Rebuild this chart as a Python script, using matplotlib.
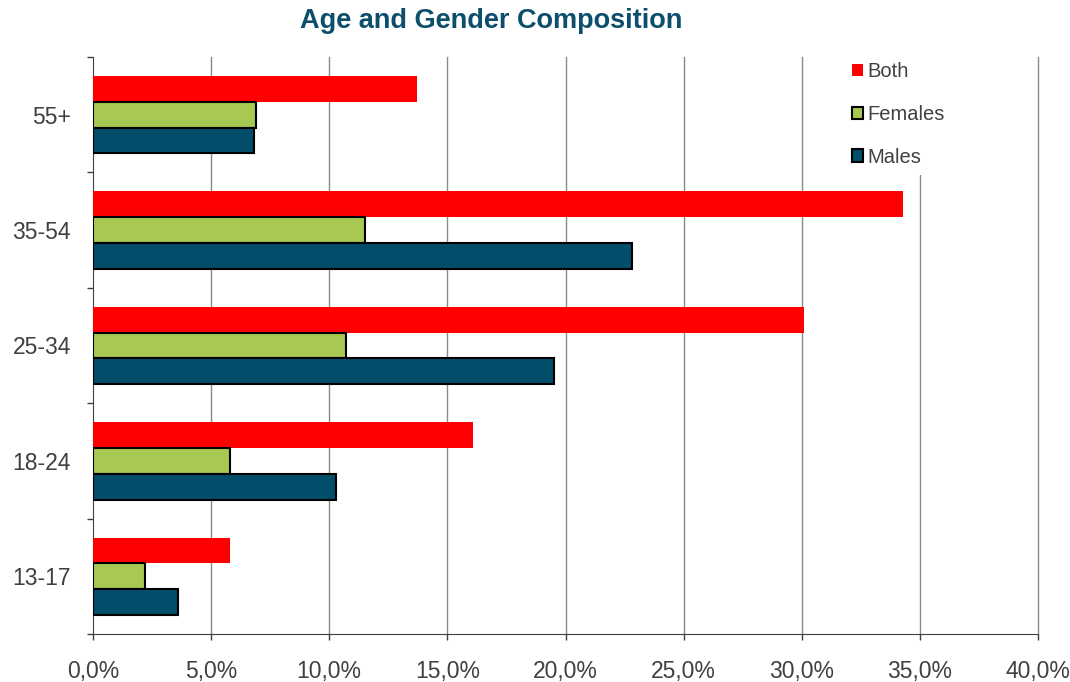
import matplotlib
matplotlib.use("Agg")
import matplotlib.pyplot as plt
from matplotlib.patches import Patch
from matplotlib.ticker import FuncFormatter, FixedLocator
import numpy as np

categories = ["13-17", "18-24", "25-34", "35-54", "55+"]
both = [5.8, 16.1, 30.1, 34.3, 13.7]
females = [2.2, 5.8, 10.7, 11.5, 6.9]
males = [3.6, 10.3, 19.5, 22.8, 6.8]
xticks = [0, 5, 10, 15, 20, 25, 30, 35, 40]

c_both = "#FF0000"
c_fem = "#A7C952"
c_male = "#024E6A"
txt = "#404040"

plt.rcParams['font.family'] = ['Liberation Sans', 'DejaVu Sans']

fig = plt.figure(figsize=(10.70, 6.82), dpi=100)
ax = fig.add_axes([93/1070, 1-634/682, (1038-93)/1070, (634-57)/682])

y = np.arange(len(categories))
h = 0.223
ax.barh(y + h, both, height=h, color=c_both, edgecolor="none", zorder=3, label="Both")
ax.barh(y, females, height=h, color=c_fem, edgecolor="black", linewidth=1.5, zorder=3, label="Females")
ax.barh(y - h, males, height=h, color=c_male, edgecolor="black", linewidth=1.5, zorder=3, label="Males")

ax.set_xlim(0, 40)
ax.set_ylim(-0.5, len(categories) - 0.5)
ax.set_xticks(xticks)
ax.xaxis.set_major_formatter(FuncFormatter(lambda v, p: f"{v:.1f}%".replace(".", ",")))
for xv in xticks[1:]:
    ax.axvline(xv, color="#8a8a8a", linewidth=1.0, zorder=1, clip_on=False)

ax.set_yticks(y)
ax.set_yticklabels(categories)
ax.yaxis.set_minor_locator(FixedLocator(np.arange(-0.5, len(categories), 1.0)))
ax.tick_params(axis="y", which="major", length=0, pad=16, labelsize=16.5, labelcolor=txt)
ax.tick_params(axis="y", which="minor", length=4.5, width=1, color="#404040", direction="out")
ax.tick_params(axis="x", which="major", length=4.5, width=1, color="#404040", direction="out",
               pad=14, labelsize=16.5, labelcolor=txt)

for s in ["top", "right"]:
    ax.spines[s].set_visible(False)
ax.spines["left"].set_color("#404040")
ax.spines["bottom"].set_color("#404040")

handles = [Patch(facecolor=c_both, edgecolor="none"),
           Patch(facecolor=c_fem, edgecolor="black", linewidth=1.5),
           Patch(facecolor=c_male, edgecolor="black", linewidth=1.5)]
leg = ax.legend(handles, ["Both", "Females", "Males"], loc="upper left",
                bbox_to_anchor=(834/1070, 1-44/682), bbox_transform=fig.transFigure,
                frameon=True, facecolor="white", edgecolor="none", framealpha=1,
                fancybox=False, fontsize=14.5, labelcolor=txt,
                handlelength=0.55, handleheight=0.55, handletextpad=0.2,
                labelspacing=1.18, borderpad=0.4)
leg.set_zorder(5)

fig.text(491/1070, 1-21/682, "Age and Gender Composition", ha="center", va="center",
         fontsize=19.5, fontweight="bold", color="#0B4F6C")

fig.savefig("out.png", dpi=100)
